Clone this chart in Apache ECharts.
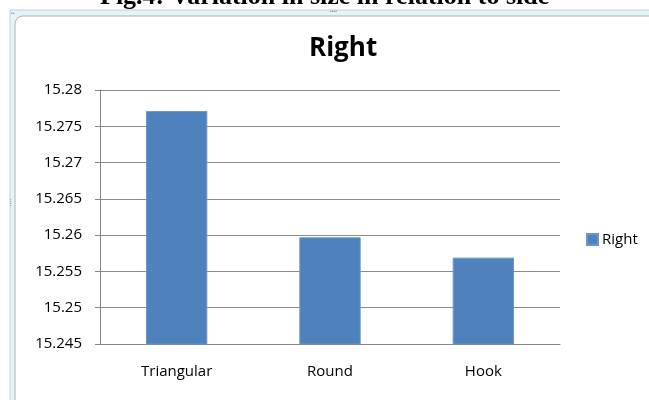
<!DOCTYPE html>
<html>
<head>
<meta charset="utf-8">
<script src="https://cdn.jsdelivr.net/npm/echarts@6/dist/echarts.min.js"></script>
<style>
  html, body { margin: 0; padding: 0; background: #fff; }
  #chart { width: 649px; height: 400px; }
</style>
</head>
<body>
<div id="chart"></div>
<script>
// values
var categories = ["Triangular", "Round", "Hook"];
var rightValues = [15.2771, 15.2597, 15.2569];
var yMin = 15.245;
var yMax = 15.28;
var yStep = 0.005;

var font = "'Open Sans', 'Noto Sans', sans-serif";

var chart = echarts.init(document.getElementById("chart"));
chart.setOption({
    backgroundColor: "#fff",
    animation: false,
    // frame of the embedded chart and the cut caption above it
    graphic: [
        { type: "rect", shape: { x: 10, y: 10, width: 700, height: 400 }, style: { fill: "#e3f5f9", stroke: "#c4cfd3", lineWidth: 1 }, z: 0 },
        { type: "rect", shape: { x: 15, y: 16, width: 700, height: 400, r: [8, 0, 0, 0] }, style: { fill: "#fff", stroke: "#a9b3b7", lineWidth: 1 }, z: 0 },
        { type: "text", left: 100, top: -16, style: { text: "Fig.4: Variation in size in relation to side", font: "bold 26px 'Liberation Serif', serif", fill: "#000" }, z: 5 },
        { type: "text", left: 330, top: 9, style: { text: "••••", font: "5px sans-serif", fill: "#8a979c" } },
        { type: "text", left: 11, top: 11, style: { text: "••", font: "5px sans-serif", fill: "#8a979c" } },
        { type: "text", left: 10, top: 198, style: { text: "•\n•\n•\n•", font: "4px sans-serif", lineHeight: 2, fill: "#8a979c" } }
    ],
    title: {
        text: "Right",
        left: 304,
        top: 31,
        textStyle: { fontFamily: font, fontSize: 26, fontWeight: "bold", color: "#000" }
    },
    legend: {
        data: ["Right"],
        left: 581,
        top: 227,
        itemWidth: 11,
        itemHeight: 11,
        itemGap: 5,
        icon: "rect",
        textStyle: { fontFamily: font, fontSize: 15, color: "#000", padding: [0, 0, 0, -1] }
    },
    grid: { left: 100, top: 90, width: 460, height: 254 },
    xAxis: {
        type: "category",
        data: categories,
        axisLine: { lineStyle: { color: "#868686" } },
        axisTick: { length: 5, lineStyle: { color: "#868686" } },
        axisLabel: { margin: 20, fontFamily: font, fontSize: 15, color: "#000" }
    },
    yAxis: {
        type: "value",
        min: yMin,
        max: yMax,
        interval: yStep,
        axisLine: { show: true, lineStyle: { color: "#868686" } },
        axisTick: { show: true, length: 5, lineStyle: { color: "#868686" } },
        splitLine: { lineStyle: { color: "#8c8c8c" } },
        axisLabel: {
            margin: 18,
            fontFamily: font,
            fontSize: 15,
            color: "#000",
            formatter: function (v) { return String(parseFloat(v.toFixed(3))); }
        }
    },
    series: [{
        name: "Right",
        type: "bar",
        data: rightValues,
        barWidth: "40%",
        itemStyle: { color: "#4f81bd", borderColor: "#6d96c8", borderWidth: 1 }
    }]
});
</script>
</body>
</html>
